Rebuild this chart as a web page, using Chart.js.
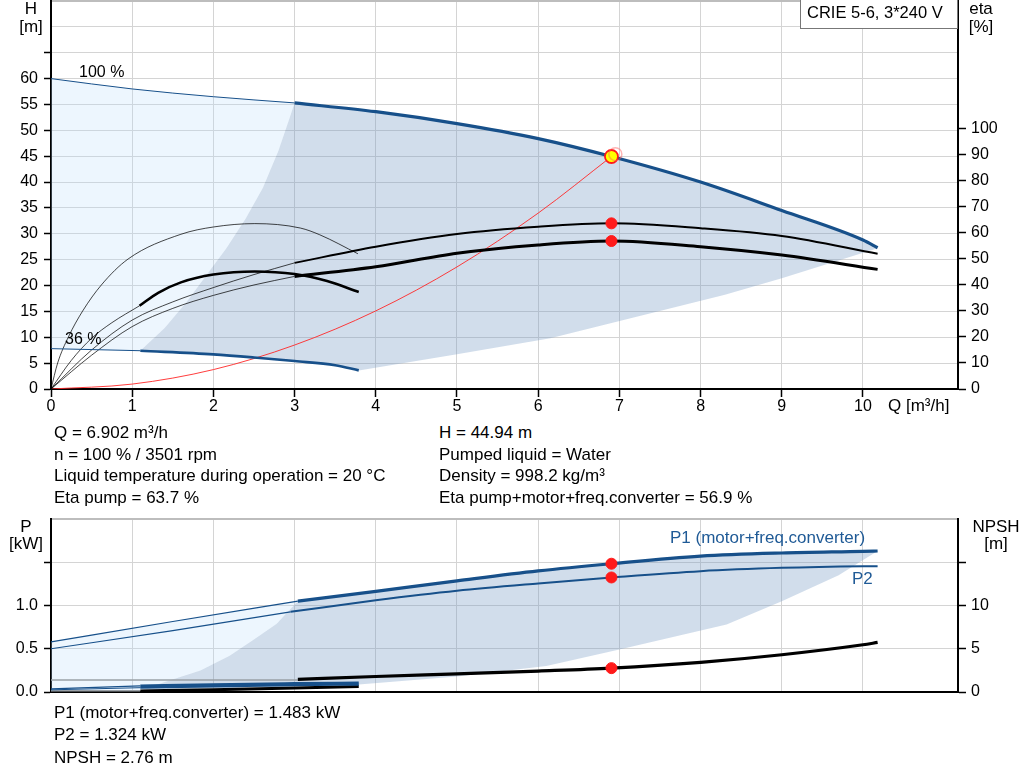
<!DOCTYPE html>
<html><head><meta charset="utf-8">
<script src="https://cdn.jsdelivr.net/npm/chart.js@4.4.1/dist/chart.umd.min.js"></script>
<style>
html,body{margin:0;padding:0;background:#fff;}
#wrap{position:relative;width:1024px;height:781px;overflow:hidden;font-family:"Liberation Sans",Arial,sans-serif;font-size:17px;color:#000;}
canvas{position:absolute;left:0;}
.t{position:absolute;white-space:nowrap;line-height:20px;}
.s{font-size:16px;line-height:18px;}
.c{transform:translateX(-50%);}
.b{color:#1f5a96;}
#box{position:absolute;left:800px;top:-1px;width:158px;height:30px;border:1px solid #777;box-sizing:border-box;background:#fff;}
</style></head><body>
<div id="wrap">
<canvas id="topc" width="1024" height="420" style="top:0px"></canvas>
<canvas id="botc" width="1024" height="210" style="top:505px"></canvas>

<div class="t c" style="left:31px;top:-1px">H</div>
<div class="t c" style="left:31px;top:17px">[m]</div>
<div class="t c" style="left:981px;top:-1px">eta</div>
<div class="t c" style="left:981px;top:17px">[%]</div>
<div class="t" style="left:888px;top:396px">Q [m³/h]</div>
<div class="t s" style="left:79px;top:63px">100 %</div>
<div class="t s" style="left:65px;top:330px">36 %</div>
<div id="box"></div>
<div class="t" style="left:807px;top:2px;font-size:16.5px">CRIE 5-6, 3*240 V</div>

<div class="t" style="left:54px;top:423px">Q = 6.902 m³/h</div>
<div class="t" style="left:54px;top:445px">n = 100 % / 3501 rpm</div>
<div class="t" style="left:54px;top:466px">Liquid temperature during operation = 20 °C</div>
<div class="t" style="left:54px;top:488px">Eta pump = 63.7 %</div>
<div class="t" style="left:439px;top:423px">H = 44.94 m</div>
<div class="t" style="left:439px;top:445px">Pumped liquid = Water</div>
<div class="t" style="left:439px;top:466px">Density = 998.2 kg/m³</div>
<div class="t" style="left:439px;top:488px">Eta pump+motor+freq.converter = 56.9 %</div>

<div class="t c" style="left:26px;top:517px">P</div>
<div class="t c" style="left:26px;top:534px">[kW]</div>
<div class="t c" style="left:996px;top:517px">NPSH</div>
<div class="t c" style="left:996px;top:534px">[m]</div>
<div class="t b" style="left:670px;top:528px">P1 (motor+freq.converter)</div>
<div class="t b" style="left:852px;top:569px">P2</div>

<div class="t" style="left:54px;top:703px">P1 (motor+freq.converter) = 1.483 kW</div>
<div class="t" style="left:54px;top:725px">P2 = 1.324 kW</div>
<div class="t" style="left:54px;top:748px">NPSH = 2.76 m</div>
</div>
<script>
// ---------- data (Q in m³/h) ----------
// Top chart: head H [m]
const h100Ext = [[0,60],[1,58],[2,56.5],[3,55.3]];
const h100 = [[3,55.3],[4,53.6],[5,51.3],[6,48.4],[6.902,44.94],[8,40],[9,34.5],[10,28.8],[10.18,27.3]];
const h36Ext = [[0,7.8],[1.1,7.4]];
const h36 = [[1.1,7.4],[2,6.7],[2.5,6.1],[3,5.4],[3.5,4.6],[3.79,3.6]];
const leftBoundH = [[1.1,7.4],[1.4,11.8],[1.67,16.8],[2.0,23.8],[2.16,27.2],[2.4,33],[2.61,38.9],[2.8,46],[2.93,52],[3,55.3]];
const lowerBoundH = [[3.79,3.6],[5,6.7],[6.15,9.8],[8.3,18.2],[9,21.4],[10.18,27.2]];
const systemCurve = [[0,0],[1,0.95],[2,3.75],[3,8.5],[4,15.1],[5,23.6],[6,34],[6.902,44.94]];
const dutyH = [[6.902,44.94]];
// Top chart: efficiency eta [%]
const etaPump100Ext = [[0,0],[0.5,15],[1,26.5],[1.5,33.5],[2,39],[2.5,44],[3,48.5]];
const etaPump100 = [[3,48.5],[4,54.7],[5,59.6],[6,62.4],[6.902,63.7],[8,61.8],[9,58.8],[10.18,52]];
const etaTot100Ext = [[0,0],[0.5,13],[1,24],[1.5,31],[2,36],[2.5,40],[3,43.3]];
const etaTot100 = [[3,43.3],[4,47],[5,52.2],[6,55.4],[6.902,56.9],[8,54.7],[9,51.5],[10.18,46]];
const etaPump36 = [[0,0],[0.082,10],[0.214,20],[0.39,30],[0.62,40],[0.95,50],[1.6,59.5],[2,62.3],[2.51,63.6],[3.07,61.9],[3.31,59.3],[3.78,52]];
const etaTot36Ext = [[0,0],[0.25,11],[0.5,19.5],[0.75,25.5],[1.09,32]];
const etaTot36 = [[1.09,32],[1.32,37],[1.6,41],[2,44],[2.51,45.2],[3,44.2],[3.4,41.5],[3.79,37.3]];
const dutyEta = [[6.902,63.7],[6.902,56.9]];
// Bottom chart: power P [kW]
const p1Ext = [[0,0.58],[1.5,0.815],[3.04,1.05]];
const p1 = [[3.04,1.05],[4,1.164],[5,1.285],[6,1.40],[6.902,1.483],[8,1.57],[9,1.607],[10,1.626],[10.18,1.63]];
const p2Ext = [[0,0.5],[1.5,0.71],[2.95,0.927]];
const p2 = [[2.95,0.927],[4,1.06],[5,1.17],[6,1.255],[6.902,1.324],[8,1.397],[9,1.435],[10,1.454],[10.18,1.455]];
const p1s36Ext = [[0,0.035],[1.1,0.07]];
const p1s36 = [[1.1,0.07],[2,0.085],[3,0.097],[3.79,0.105]];
const p2s36Ext = [[0,0.025],[1.1,0.05]];
const p2s36 = [[1.1,0.05],[2,0.064],[3,0.077],[3.79,0.085]];
const leftBoundP = [[1.1,0.02],[1.42,0.12],[1.84,0.25],[2.2,0.42],[2.49,0.6],[2.78,0.79],[2.9,0.91],[3.04,1.05]];
const lowerBoundP = [[3.79,0.088],[5,0.18],[6.1,0.30],[7,0.49],[8.32,0.78],[9,1.05],[9.7,1.35],[10.18,1.63]];
const floorP36 = [[0,0.01],[1.1,0.02]];
const bottomP36 = [[1.1,0.02],[2,0.04],[3,0.065],[3.79,0.088]];
const dutyP = [[6.902,1.483],[6.902,1.324]];
// Bottom chart: NPSH [m]
const npshExt = [[0,1.4],[3.04,1.4]];
const npsh = [[3.04,1.45],[4,1.79],[5,2.1],[6,2.42],[6.902,2.76],[8,3.43],[9,4.31],[10,5.46],[10.18,5.73]];
const npsh36Ext = [[0,0.15],[1.1,0.15]];
const npsh36 = [[1.1,0.12],[2,0.25],[3,0.45],[3.79,0.65]];
const dutyNpsh = [[6.902,2.76]];
// tick label ranges
const qLabels = [0,1,2,3,4,5,6,7,8,9,10];
const hLabelMax = 60, etaLabelMax = 100, pLabelMax = 1.0, npshLabelMax = 10;

// ---------- styles ----------
const BLUE = '#17508a', THIN = 'rgba(0,0,0,0.72)', RED = '#ff1a1a';
const DARK = 'rgba(120,155,195,0.34)', LIGHT = 'rgba(190,220,250,0.27)', GRID = '#d4d4d4';
Chart.defaults.font.family = '"Liberation Sans", Arial, sans-serif';
Chart.defaults.font.size = 16;
Chart.defaults.color = '#000';

const pts = a => a.map(p => ({x:p[0], y:p[1]}));
function line(d, color, w, axis){ return {data:pts(d), borderColor:color, borderWidth:w, pointRadius:0, fill:false, cubicInterpolationMode:'monotone', yAxisID:axis||'y'}; }
function area(d, color, axis){ return {data:pts(d), borderColor:'transparent', borderWidth:0, pointRadius:0, fill:'+1', backgroundColor:color, tension:0, yAxisID:axis||'y'}; }
function edge(d, axis){ return {data:pts(d), borderColor:'transparent', borderWidth:0, pointRadius:0, fill:false, tension:0, yAxisID:axis||'y'}; }
function dots(d, axis, bg, border, r, bw){ return {data:pts(d), showLine:false, pointRadius:r, pointHoverRadius:r, pointBackgroundColor:bg, pointBorderColor:border, pointBorderWidth:bw, yAxisID:axis}; }

function xScale(h, showLabels){
  return {type:'linear', min:0, max:11.17,
    ticks:{display:showLabels, stepSize:1, autoSkip:false, maxRotation:0, padding:0,
      callback:v => qLabels.includes(v) ? String(v) : ''},
    grid:{color:GRID, lineWidth:1, drawTicks:showLabels, tickLength:8, tickWidth:1.5,
      tickColor:c => (c.tick && c.tick.value <= 11.01) ? '#000' : 'rgba(0,0,0,0)'},
    border:{color:'#000', width:2},
    afterFit:s => { s.height = h; s.paddingLeft = 0; s.paddingRight = 0; }};
}
function yScale(pos, max, step, labelMax, tickMax, w, fmt, tl, pad, onChart){
  return {type:'linear', position:pos, min:0, max:max,
    ticks:{stepSize:step, autoSkip:false, padding:pad,
      callback:v => (v <= labelMax + 1e-9 && Math.abs(v/step - Math.round(v/step)) < 1e-6) ? fmt(v) : ''},
    grid:{drawOnChartArea:onChart, color:c => (c.tick && Math.abs(c.tick.value - max) < 1e-6) ? '#bdbdbd' : GRID,
      lineWidth:c => (c.tick && Math.abs(c.tick.value - max) < 1e-6) ? 2 : 1,
      tickLength:tl, tickWidth:1.5,
      tickColor:c => (c.tick && c.tick.value <= tickMax + 1e-9) ? '#000' : 'rgba(0,0,0,0)'},
    border:{color:'#000', width:2},
    afterFit:s => { s.width = w; s.paddingTop = 0; s.paddingBottom = 0; }};
}
const baseOpts = {responsive:false, animation:false, events:[],
  plugins:{legend:{display:false}, tooltip:{enabled:false}}};

// ---------- top chart ----------
new Chart(document.getElementById('topc'), {
  type:'line',
  data:{datasets:[
    dots([[6.95,45.4]], 'y', 'rgba(0,0,0,0)', 'rgba(255,90,90,0.45)', 6.5, 1.5),
    dots(dutyH, 'y', '#ffff00', RED, 6.5, 1.8),
    dots(dutyEta, 'y2', RED, RED, 5.5, 1),
    line(h100, BLUE, 3.2),
    line(h100Ext, BLUE, 1),
    line(h36, BLUE, 2.6),
    line(h36Ext, BLUE, 1),
    line(etaPump100, '#000', 2, 'y2'),
    line(etaPump100Ext, THIN, 1, 'y2'),
    line(etaTot100, '#000', 3, 'y2'),
    line(etaTot100Ext, THIN, 1, 'y2'),
    line(etaPump36, THIN, 1, 'y2'),
    line(etaTot36, '#000', 2.6, 'y2'),
    line(etaTot36Ext, THIN, 1, 'y2'),
    line(systemCurve, 'rgba(255,40,40,0.9)', 1),
    area(leftBoundH.concat(h100.slice(1)), DARK),
    edge(h36.concat(lowerBoundH.slice(1))),
    area(h100Ext, LIGHT),
    edge(h36Ext.concat(leftBoundH.slice(1)))
  ]},
  options:Object.assign({}, baseOpts, {
    layout:{autoPadding:false, padding:{top:1, left:0, right:0, bottom:0}},
    scales:{
      x:xScale(31, true),
      y:yScale('left', 75, 5, hLabelMax, 65, 51, v => String(v), 7, 6, true),
      y2:yScale('right', 149.2, 10, etaLabelMax, 100, 66, v => String(v), 8, 5, false)
    }})
});

// ---------- bottom chart ----------
new Chart(document.getElementById('botc'), {
  type:'line',
  data:{datasets:[
    dots(dutyP, 'y', RED, RED, 5.5, 1),
    dots(dutyNpsh, 'y2', RED, RED, 5.5, 1),
    line(p1, BLUE, 3.2),
    line(p1Ext, BLUE, 1.2),
    line(p2, BLUE, 2),
    line(p2Ext, BLUE, 1.2),
    line(npsh, '#000', 3.2, 'y2'),
    line(npshExt, '#9aa0a6', 1.5, 'y2'),
    line(p1s36, BLUE, 3),
    line(p1s36Ext, BLUE, 1.2),
    line(p2s36, BLUE, 2),
    line(p2s36Ext, BLUE, 1),
    line(npsh36, '#000', 3, 'y2'),
    line(npsh36Ext, '#9aa0a6', 1.5, 'y2'),
    area(leftBoundP.concat(p1.slice(1)), DARK),
    edge(bottomP36.concat(lowerBoundP.slice(1))),
    area(p1Ext, LIGHT),
    edge(floorP36.concat(leftBoundP.slice(1)))
  ]},
  options:Object.assign({}, baseOpts, {
    layout:{autoPadding:false, padding:{top:14, left:0, right:0, bottom:0}},
    scales:{
      x:xScale(23, false),
      y:yScale('left', 2.0, 0.5, pLabelMax, 1.5, 51, v => v.toFixed(1), 7, 6, true),
      y2:yScale('right', 20, 5, npshLabelMax, 15, 66, v => String(v), 8, 5, false)
    }})
});
</script>
</body></html>
